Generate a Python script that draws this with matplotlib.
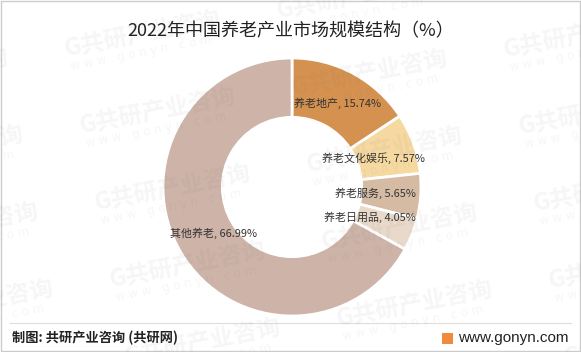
import numpy as np
import matplotlib
matplotlib.use("Agg")
import matplotlib.pyplot as plt
from matplotlib.patches import Rectangle

plt.rcParams['font.family'] = ['Noto Sans CJK SC', 'DejaVu Sans']

categories = ["养老地产", "养老文化娱乐", "养老服务", "养老日用品", "其他养老"]
values = [15.74, 7.57, 5.65, 4.05, 66.99]
colors = ["#D4914F", "#F6D9A0", "#D5BBA3", "#E9D9CA", "#CDB3A8"]
title = "2022年中国养老产业市场规模结构（%）"
source = "制图: 共研产业咨询 (共研网)"
site = "www.gonyn.com"
wm_main = "G共研产业咨询"
wm_sub = "w w w . g o n y n . c o m"

W, H = 581, 352
fig = plt.figure(figsize=(W/100, H/100), dpi=100)
fig.patch.set_facecolor("white")

def fx(x):
    return x / W

def fy(y):
    return 1 - y / H

cx, cy, R = 292, 187, 129
ax = fig.add_axes([(cx - R)/W, (H - cy - R)/H, 2*R/W, 2*R/H])
ax.set_facecolor("none")
wedges, _ = ax.pie(values, colors=colors, startangle=90, counterclock=False,
                   radius=1.0, wedgeprops=dict(width=0.46, edgecolor="white", linewidth=2))
ax.set_xlim(-1, 1)
ax.set_ylim(-1, 1)
ax.set_aspect("equal")
ax.axis("off")

dists = [0.74, 0.67, 0.65, 0.65, 0.71]
for w, cat, v, d in zip(wedges, categories, values, dists):
    ang = np.deg2rad((w.theta1 + w.theta2) / 2)
    ax.text(d*np.cos(ang), d*np.sin(ang), f"{cat}, {v:.2f}%", ha="center", va="center",
            fontsize=7.9, color="#333333", zorder=5)

# tiled watermark
base = np.array([65.0, 50.0])
col_v = np.array([212.0, -38.0])
row_v = np.array([15.0, 77.0])
for i in range(-1, 4):
    for j in range(-1, 6):
        px, py = base + i*col_v + j*row_v
        if px < -180 or px > W or py < -20 or py > H + 20:
            continue
        fig.text(fx(px), fy(py), wm_main, fontsize=17, fontweight="bold", color="#777777",
                 alpha=0.065, rotation=11, rotation_mode="anchor", ha="left", va="center",
                 zorder=10)
        fig.text(fx(px + 6), fy(py + 17), wm_sub, fontsize=8.5, color="#777777",
                 alpha=0.065, rotation=11, rotation_mode="anchor", ha="left", va="center",
                 family=["DejaVu Sans"], zorder=10)

fig.text(0.5, fy(31), title, ha="center", va="center", fontsize=13, color="#222222",
         zorder=11)

# footer
fig.add_artist(plt.Line2D([fx(10), fx(571)], [fy(323), fy(323)], color="#DDDDDD", lw=0.8))
fig.text(fx(12), fy(338), source, ha="left", va="center", fontsize=9.5, color="#222222",
         fontweight="bold", zorder=11)
fig.text(fx(569), fy(338), site, ha="right", va="center", fontsize=11, color="#222222",
         family=["Liberation Sans", "DejaVu Sans"], zorder=11)
fig.add_artist(Rectangle((fx(442), fy(344)), 11/W, 11/H, transform=fig.transFigure,
                         facecolor="#F08A3C", edgecolor="none"))
# border
fig.add_artist(Rectangle((1/W, 1/H), 1 - 2/W, 1 - 2/H, transform=fig.transFigure,
                         facecolor="none", edgecolor="#CCCCCC", lw=1))

fig.savefig("out.png", dpi=100, facecolor="white")
